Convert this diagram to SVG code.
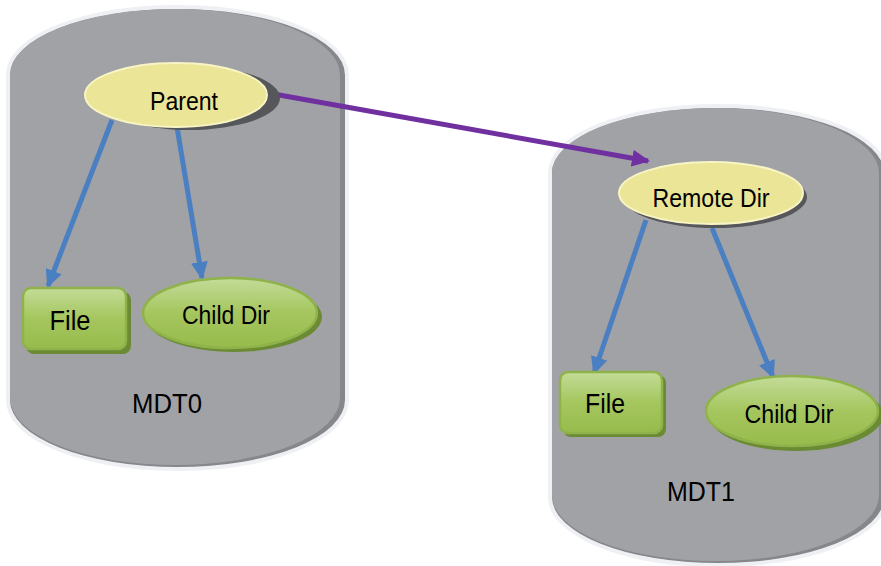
<svg xmlns="http://www.w3.org/2000/svg" width="881" height="566" viewBox="0 0 881 566">
<defs>
<style>
.cyl{fill:#a1a2a6}
.cylsh{fill:#86878a}
.glow{fill:none;stroke:#eef0f4;stroke-width:8}
.yel{fill:#eae597;stroke:#f8f4c4;stroke-width:2}
.sh{fill:#55575a}
.grn{fill:url(#g);stroke:#8fb24a;stroke-width:2.5}
.gsh{fill:#6b8a34}
.t{font-family:"Liberation Sans",Arial,sans-serif;fill:#000;text-anchor:middle}
.blue{stroke:#4a7fc1;stroke-width:5;fill:none}
.purp{stroke:#7030a0;stroke-width:5;fill:none}
</style>
<linearGradient id="g" x1="0" y1="0" x2="0" y2="1">
<stop offset="0" stop-color="#c3dc98"/>
<stop offset="0.5" stop-color="#a5c65e"/>
<stop offset="1" stop-color="#97bb4c"/>
</linearGradient>
<marker id="ab" markerWidth="3.6" markerHeight="3.4" refX="3.2" refY="1.7" orient="auto" markerUnits="strokeWidth">
<path d="M0,0 L3.6,1.7 L0,3.4 Z" fill="#4a7fc1"/>
</marker>
<marker id="ap" markerWidth="3.6" markerHeight="3.4" refX="3.2" refY="1.7" orient="auto" markerUnits="strokeWidth">
<path d="M0,0 L3.6,1.7 L0,3.4 Z" fill="#7030a0"/>
</marker>
</defs>
<rect width="881" height="566" fill="#fff"/>

<g id="mdt0">
<path class="glow" d="M10,75 A167.5,66 0 0 1 345,75 L345,400 A167.5,67 0 0 1 10,400 Z"/>
<path class="cylsh" d="M10,75 A167.5,66 0 0 1 345,75 L345,400 A167.5,67 0 0 1 10,400 Z"/>
<path class="cyl" d="M10,75 A165,66 0 0 1 340,75 L340,398 A165,67 0 0 1 10,398 Z"/>
<text class="t" x="167" y="413" font-size="27" textLength="70" lengthAdjust="spacingAndGlyphs">MDT0</text>
</g>

<g id="mdt1">
<path class="glow" d="M552,173 A166,65 0 0 1 884,173 L884,497 A166,66 0 0 1 552,497 Z"/>
<path class="cylsh" d="M552,173 A166,65 0 0 1 884,173 L884,497 A166,66 0 0 1 552,497 Z"/>
<path class="cyl" d="M552,173 A163.5,65 0 0 1 879,173 L879,495 A163.5,66 0 0 1 552,495 Z"/>
<text class="t" x="701" y="501" font-size="27" textLength="68" lengthAdjust="spacingAndGlyphs">MDT1</text>
</g>

<g id="connectors">
<line class="blue" x1="112" y1="120" x2="48" y2="286" marker-end="url(#ab)"/>
<line class="blue" x1="177" y1="127" x2="202" y2="278" marker-end="url(#ab)"/>
<line class="blue" x1="646" y1="220" x2="594" y2="373" marker-end="url(#ab)"/>
<line class="blue" x1="712" y1="228" x2="773" y2="377" marker-end="url(#ab)"/>
<line class="purp" x1="268" y1="93" x2="648" y2="161" marker-end="url(#ap)"/>
</g>

<g id="parent">
<ellipse class="sh" cx="189" cy="98" rx="91" ry="32"/>
<ellipse class="yel" cx="176" cy="95" rx="91" ry="32"/>
<text class="t" x="184" y="110" font-size="26" textLength="68" lengthAdjust="spacingAndGlyphs">Parent</text>
</g>

<g id="file0">
<rect class="gsh" x="26" y="292" width="105" height="62" rx="8"/>
<rect class="grn" x="23" y="288" width="103" height="61" rx="8"/>
<text class="t" x="70" y="330" font-size="27" textLength="41" lengthAdjust="spacingAndGlyphs">File</text>
</g>

<g id="childdir0">
<ellipse class="gsh" cx="234" cy="317" rx="88" ry="35"/>
<ellipse class="grn" cx="230" cy="313" rx="87" ry="35"/>
<text class="t" x="226" y="324" font-size="26" textLength="88" lengthAdjust="spacingAndGlyphs">Child Dir</text>
</g>

<g id="remotedir">
<ellipse class="sh" cx="715" cy="197" rx="92" ry="31"/>
<ellipse class="yel" cx="711" cy="193" rx="92" ry="31"/>
<text class="t" x="711" y="207" font-size="26" textLength="117" lengthAdjust="spacingAndGlyphs">Remote Dir</text>
</g>

<g id="file1">
<rect class="gsh" x="563" y="375" width="103" height="62" rx="8"/>
<rect class="grn" x="560" y="372" width="102" height="61" rx="8"/>
<text class="t" x="605" y="413" font-size="27" textLength="40" lengthAdjust="spacingAndGlyphs">File</text>
</g>

<g id="childdir1">
<ellipse class="gsh" cx="796" cy="415" rx="87" ry="36"/>
<ellipse class="grn" cx="792" cy="411" rx="86" ry="35"/>
<text class="t" x="789" y="423" font-size="26" textLength="89" lengthAdjust="spacingAndGlyphs">Child Dir</text>
</g>
</svg>
